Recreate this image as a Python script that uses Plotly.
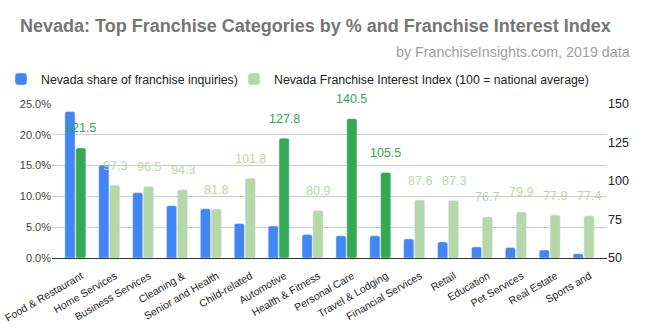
import plotly.graph_objects as go

categories = ["Food & Restaurant", "Home Services", "Business Services", "Cleaning &",
              "Senior and Health", "Child-related", "Automotive", "Health & Fitness",
              "Personal Care", "Travel & Lodging", "Financial Services", "Retail",
              "Education", "Pet Services", "Real Estate", "Sports and"]
share_pct = [23.8, 15.1, 10.6, 8.5, 8.0, 5.6, 5.2, 3.8, 3.6, 3.6, 3.1, 2.6, 1.8, 1.7, 1.3, 0.7]
interest_index = [121.5, 97.3, 96.5, 94.3, 81.8, 101.8, 127.8, 80.9, 140.5, 105.5,
                  87.6, 87.3, 76.7, 79.9, 77.9, 77.4]
highlight_threshold = 105

BLUE = "#4285f4"
DARK_GREEN = "#34a853"
LIGHT_GREEN = "#b6d7a8"
FONT = "Arial, Liberation Sans, sans-serif"

hi = [v if v >= highlight_threshold else None for v in interest_index]
lo = [v if v < highlight_threshold else None for v in interest_index]

fig = go.Figure()
fig.add_trace(go.Bar(x=categories, y=share_pct, name="Nevada share of franchise inquiries)",
                     marker=dict(color=BLUE, cornerradius=2), offsetgroup="1", yaxis="y",
                     legend="legend"))
fig.add_trace(go.Bar(x=categories, y=[None if v is None else v - 50 for v in lo], base=50,
                     name="Nevada Franchise Interest Index (100 = national average)",
                     marker=dict(color=LIGHT_GREEN, cornerradius=2), offsetgroup="2", yaxis="y2",
                     legend="legend2"))
fig.add_trace(go.Bar(x=categories, y=[None if v is None else v - 50 for v in hi], base=50,
                     name="hi", showlegend=False,
                     marker=dict(color=DARK_GREEN, cornerradius=2), offsetgroup="2", yaxis="y2"))

for c, v in zip(categories, interest_index):
    fig.add_annotation(x=c, y=v, xref="x", yref="y2", text=f"{v:.1f}", showarrow=False,
                       xshift=5.5, yshift=19.5, yanchor="middle",
                       font=dict(family=FONT, size=12.5,
                                 color=DARK_GREEN if v >= highlight_threshold else LIGHT_GREEN))

fig.add_annotation(text="by FranchiseInsights.com, 2019 data", xref="paper", yref="paper",
                   x=1.045, y=1.338, xanchor="right", yanchor="middle", showarrow=False,
                   font=dict(family=FONT, size=14.3, color="#9e9e9e"))

legend_common = dict(orientation="h", yanchor="middle", y=1.162,
                     font=dict(family=FONT, size=12.3, color="#222222"),
                     bgcolor="rgba(0,0,0,0)")

fig.update_layout(
    width=650, height=336,
    margin=dict(l=52, r=43, t=104, b=78, autoexpand=False),
    paper_bgcolor="white", plot_bgcolor="white",
    barmode="group", bargap=0.36, bargroupgap=0.06,
    font=dict(family=FONT, color="#222222"),
    title=dict(text="<b>Nevada: Top Franchise Categories by % and Franchise Interest Index</b>",
               x=20 / 650, xanchor="left", y=1 - 26 / 336, yanchor="middle",
               font=dict(family=FONT, size=18, color="#757575")),
    legend=dict(x=-51 / 555, xanchor="left", **legend_common),
    legend2=dict(x=(234 - 52) / 555, xanchor="left", **legend_common),
    xaxis=dict(range=[-0.69, 15.69], tickangle=-30, tickfont=dict(size=10.5, color="#222222"),
               showline=True, linecolor="#333333", linewidth=1, ticks="", showgrid=False,
               automargin=False, ticklabelshift=6, ticklabelstandoff=7),
    yaxis=dict(range=[0, 25], dtick=5, ticksuffix="%", tickformat=".1f",
               gridcolor="#cccccc", zeroline=False, tickfont=dict(size=11, color="#444444"),
               ticks="", automargin=False),
    yaxis2=dict(range=[50, 150], dtick=25, overlaying="y", side="right", showgrid=False,
                zeroline=False, tickfont=dict(size=12.5, color="#222222"), ticks="",
                automargin=False),
)

fig.write_html("out.html")
